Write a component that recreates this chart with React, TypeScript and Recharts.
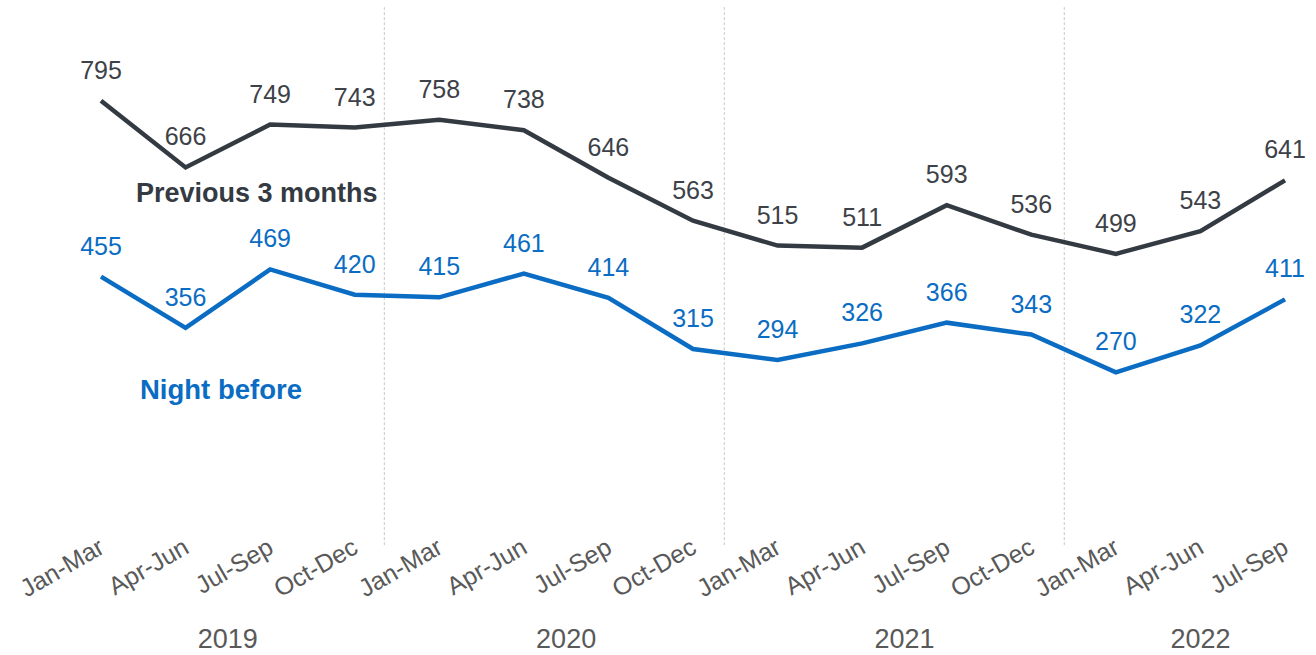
import React from 'react';
import {
  LineChart, Line, XAxis, YAxis, LabelList, ReferenceLine,
} from 'recharts';

const quarters = [
  'Jan-Mar', 'Apr-Jun', 'Jul-Sep', 'Oct-Dec',
  'Jan-Mar', 'Apr-Jun', 'Jul-Sep', 'Oct-Dec',
  'Jan-Mar', 'Apr-Jun', 'Jul-Sep', 'Oct-Dec',
  'Jan-Mar', 'Apr-Jun', 'Jul-Sep',
];
const years = [
  '2019', '2019', '2019', '2019',
  '2020', '2020', '2020', '2020',
  '2021', '2021', '2021', '2021',
  '2022', '2022', '2022',
];
const previous3Months = [795, 666, 749, 743, 758, 738, 646, 563, 515, 511, 593, 536, 499, 543, 641];
const nightBefore = [455, 356, 469, 420, 415, 461, 414, 315, 294, 326, 366, 343, 270, 322, 411];

const data = quarters.map((q, i) => ({
  idx: i,
  quarter: q,
  year: years[i],
  previous: previous3Months[i],
  night: nightBefore[i],
}));

// centre of each year's group of quarters, used for the year row
const yearList = Array.from(new Set(years));
const yearCentres = yearList.map((y) => {
  const idxs = data.filter((d) => d.year === y).map((d) => d.idx);
  return idxs.reduce((a, b) => a + b, 0) / idxs.length;
});

// dotted dividers between years (sit a bit left of the midpoint in the original)
const yearDividers = [3.35, 7.37, 11.39];

const DARK = '#343a42';
const BLUE = '#0a6cc2';
const GREY_TEXT = '#595959';
const FONT = '"Liberation Sans", Arial, sans-serif';

const QuarterTick = (props: any) => {
  const { x, y, payload } = props;
  const label = quarters[Math.round(payload.value)] ?? '';
  const tx = x + 5;
  const ty = y + 40;
  return (
    <text
      x={tx}
      y={ty}
      transform={`rotate(-30 ${tx} ${ty})`}
      textAnchor="end"
      fill={GREY_TEXT}
      fontSize={25}
      fontFamily={FONT}
    >
      {label}
    </text>
  );
};

const YearTick = (props: any) => {
  const { x, y, index } = props;
  return (
    <text x={x} y={y + 56} textAnchor="middle" fill={GREY_TEXT} fontSize={27} fontFamily={FONT}>
      {yearList[index]}
    </text>
  );
};

const App: React.FC = () => {
  return (
    <div style={{ position: 'absolute', left: 0, top: 0, width: 1316, height: 655, background: '#fff' }}>
      <LineChart
        width={1316}
        height={655}
        data={data}
        margin={{ top: 5, right: 31, left: 101, bottom: 0 }}
      >
        <XAxis
          dataKey="idx"
          type="number"
          domain={[0, 14]}
          ticks={data.map((d) => d.idx)}
          interval={0}
          axisLine={false}
          tickLine={false}
          tickSize={0}
          tickMargin={0}
          height={80}
          tick={<QuarterTick />}
        />
        <XAxis
          xAxisId="year"
          dataKey="idx"
          type="number"
          domain={[0, 14]}
          ticks={yearCentres}
          interval={0}
          axisLine={false}
          tickLine={false}
          tickSize={0}
          tickMargin={0}
          height={63}
          tick={<YearTick />}
        />
        <YAxis hide domain={[0, 980]} />
        {yearDividers.map((x) => (
          <ReferenceLine
            key={x}
            segment={[{ x, y: -64 }, { x, y: 976 }]}
            ifOverflow="visible"
            stroke="#c8c8c8"
            strokeWidth={1}
            strokeDasharray="3 2"
          />
        ))}
        <Line
          type="linear"
          dataKey="previous"
          stroke={DARK}
          strokeWidth={4.5}
          dot={false}
          activeDot={false}
          isAnimationActive={false}
        >
          <LabelList dataKey="previous" position="top" offset={22} fill="#3d4148" fontSize={25} fontFamily={FONT} />
        </Line>
        <Line
          type="linear"
          dataKey="night"
          stroke={BLUE}
          strokeWidth={4.5}
          dot={false}
          activeDot={false}
          isAnimationActive={false}
        >
          <LabelList dataKey="night" position="top" offset={22} fill={BLUE} fontSize={25} fontFamily={FONT} />
        </Line>
      </LineChart>
      <div
        style={{
          position: 'absolute', left: 136, top: 180, fontFamily: FONT, fontSize: 27,
          lineHeight: '27px', fontWeight: 700, color: DARK, whiteSpace: 'nowrap',
        }}
      >
        Previous 3 months
      </div>
      <div
        style={{
          position: 'absolute', left: 140, top: 376, fontFamily: FONT, fontSize: 27.5,
          lineHeight: '27.5px', fontWeight: 700, color: BLUE, whiteSpace: 'nowrap',
        }}
      >
        Night before
      </div>
    </div>
  );
};

export default App;
